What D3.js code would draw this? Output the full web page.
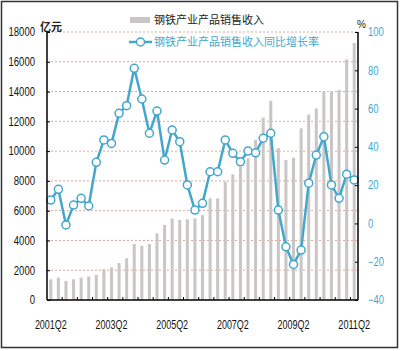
<!doctype html>
<html lang="zh">
<head>
    <meta charset="utf-8">
    <title></title>
    <script src="https://d3js.org/d3.v7.min.js"></script>
    <style type="text/css">
    body { margin:0; background:#fff; }
    .tick-text { font-family:"Liberation Sans Narrow","Arial Narrow","Liberation Sans",sans-serif; font-size:12px; }
    .cjk { font-family:"Noto Sans CJK SC",sans-serif; }
    </style>
</head>

<body>
</body>

<script type="text/javascript">

  var quarters = ["2001Q2","2001Q3","2001Q4","2002Q1","2002Q2","2002Q3","2002Q4","2003Q1",
    "2003Q2","2003Q3","2003Q4","2004Q1","2004Q2","2004Q3","2004Q4","2005Q1",
    "2005Q2","2005Q3","2005Q4","2006Q1","2006Q2","2006Q3","2006Q4","2007Q1",
    "2007Q2","2007Q3","2007Q4","2008Q1","2008Q2","2008Q3","2008Q4","2009Q1",
    "2009Q2","2009Q3","2009Q4","2010Q1","2010Q2","2010Q3","2010Q4","2011Q1","2011Q2"]

  // 钢铁产业产品销售收入 (亿元)
  var revenue = [1390,1500,1280,1390,1500,1580,1690,2080,2190,2480,2800,3760,3650,3760,4480,5040,
    5480,5380,5420,5480,5700,6830,6830,7950,8440,8960,9510,10750,12250,13380,10200,9400,
    9560,11530,12450,12870,13990,14000,14100,16160,17260]

  // 同比增长率 (%)
  var growth = [12.2,17.8,-0.8,9.6,13.1,9.1,31.9,43.6,41.8,57.5,61.5,81.0,65.0,47.1,58.7,33.1,
    48.8,42.7,20.1,7.0,10.5,27.0,27.0,43.6,36.6,32.2,37.8,36.9,44.5,47.1,7.0,-12.2,
    -21.4,-13.9,21.0,35.7,45.3,20.1,13.1,25.7,22.7]

  var leftTicks  = [0,2000,4000,6000,8000,10000,12000,14000,16000,18000]
  var rightTicks = [-40,-20,0,20,40,60,80,100]
  var xLabels    = ["2001Q2","2003Q2","2005Q2","2007Q2","2009Q2","2011Q2"]

  var blue = "#43a7cb"
  var grey = "#cbc6c6"

  var margin = {top:32, left:47, right:42, bottom:51};
  var W = 400, H = 351;
  var width  = W - margin.left - margin.right;
  var height = H - margin.top  - margin.bottom;

  // squeeze digits to look like the narrow face of the original
  function narrow(sel){
    sel.attr("textLength",function(){ return this.textContent.length*5.3 })
       .attr("lengthAdjust","spacingAndGlyphs")
  }

  var svg = d3.select("body")
    .append("svg")
    .attr("width", W)
    .attr("height", H)

  // outer frame
  svg.append("rect")
    .attr("x",1.5).attr("y",1.5)
    .attr("width",W-4).attr("height",H-5)
    .style("fill","none")
    .style("stroke","#333")
    .style("stroke-width",1.5)

  var g = svg.append("g")
    .attr("transform","translate("+margin.left+","+margin.top+")");

  var xScale = d3.scaleBand()
    .domain(quarters)
    .range([0,width])
    .paddingInner(0.6)
    .paddingOuter(0.3)

  var yLeft = d3.scaleLinear()
    .domain([0,18000])
    .range([height,0])

  var yRight = d3.scaleLinear()
    .domain([-40,100])
    .range([height,0])

  // gridlines
  g.selectAll(".grid")
    .data(leftTicks.filter(d=>d>0))
    .enter()
    .append("line")
    .attr("x1",0).attr("x2",width)
    .attr("y1",d=>yLeft(d)).attr("y2",d=>yLeft(d))
    .style("stroke","#d9a9a0")
    .style("stroke-width",1)
    .style("stroke-dasharray","2,2")

  // bars
  g.selectAll(".bar")
    .data(revenue)
    .enter()
    .append("rect")
    .attr("x",(d,i)=>xScale(quarters[i]))
    .attr("width",xScale.bandwidth())
    .attr("y",d=>yLeft(d))
    .attr("height",d=>height-yLeft(d))
    .style("fill",grey)

  // growth line
  var cx = (d,i)=>xScale(quarters[i])+xScale.bandwidth()/2;
  var line = d3.line()
    .x(cx)
    .y(d=>yRight(d))

  g.append("path")
    .attr("d",line(growth))
    .style("fill","none")
    .style("stroke",blue)
    .style("stroke-width",2.5)

  g.selectAll(".dot")
    .data(growth)
    .enter()
    .append("circle")
    .attr("cx",cx)
    .attr("cy",d=>yRight(d))
    .attr("r",4)
    .style("fill","#fff")
    .style("stroke",blue)
    .style("stroke-width",1.5)

  // left axis
  var leftAxis = d3.axisLeft(yLeft).tickValues(leftTicks).tickSize(-3).tickPadding(12).tickFormat(d3.format("d"))
  var la = g.append("g").call(leftAxis)
  la.select(".domain").remove()
  la.selectAll("line").style("stroke","#000")
  la.selectAll("text").attr("class","tick-text").style("fill","#111").call(narrow)

  // right axis
  var rightAxis = d3.axisRight(yRight).tickValues(rightTicks).tickSize(-3).tickPadding(10)
  var ra = g.append("g").attr("transform","translate("+width+",0)").call(rightAxis)
  ra.select(".domain").remove()
  ra.selectAll("line").style("stroke","#000")
  ra.selectAll("text").attr("class","tick-text").style("fill",blue).call(narrow)

  // axis lines
  g.append("line").attr("x1",0).attr("x2",0).attr("y1",0).attr("y2",height)
    .style("stroke","#000").style("stroke-width",1.5)
  g.append("line").attr("x1",width).attr("x2",width).attr("y1",0).attr("y2",height)
    .style("stroke","#000").style("stroke-width",1.5)
  g.append("line").attr("x1",0).attr("x2",width).attr("y1",height).attr("y2",height)
    .style("stroke","#000").style("stroke-width",1.5)

  // x ticks every two quarters at band edges
  var step = xScale.step()
  var edges = quarters.map((q,i)=>i).filter(i=>i>0 && i%2==0)
  g.selectAll(".xtick")
    .data(edges)
    .enter()
    .append("line")
    .attr("x1",i=>xScale(quarters[i])-step*xScale.paddingInner()/2)
    .attr("x2",i=>xScale(quarters[i])-step*xScale.paddingInner()/2)
    .attr("y1",height).attr("y2",height-3)
    .style("stroke","#000")

  g.selectAll(".xlabel")
    .data(xLabels)
    .enter()
    .append("text")
    .attr("class","tick-text")
    .attr("x",d=>xScale(d)+xScale.bandwidth()/2)
    .attr("y",height+29)
    .attr("text-anchor","middle")
    .style("fill","#111")
    .text(d=>d)
    .call(narrow)

  // units
  svg.append("text").attr("class","cjk")
    .attr("x",40).attr("y",31)
    .style("font-size","11px").style("font-weight","bold").style("fill","#222")
    .text("亿元")
  svg.append("text").attr("class","tick-text")
    .attr("x",357).attr("y",28)
    .style("font-size","10px").style("fill","#222")
    .text("%")

  // legend
  svg.append("rect").attr("x",130).attr("y",17).attr("width",20).attr("height",6).style("fill",grey)
  svg.append("text").attr("class","cjk")
    .attr("x",154).attr("y",24)
    .style("font-size","11px").style("fill","#222")
    .text("钢铁产业产品销售收入")
  svg.append("line").attr("x1",129).attr("x2",152).attr("y1",42).attr("y2",42)
    .style("stroke",blue).style("stroke-width",2.5)
  svg.append("circle").attr("cx",140.5).attr("cy",42).attr("r",4)
    .style("fill","#fff").style("stroke",blue).style("stroke-width",1.5)
  svg.append("text").attr("class","cjk")
    .attr("x",154).attr("y",46)
    .style("font-size","11px").style("fill",blue)
    .text("钢铁产业产品销售收入同比增长率")

</script>
</html>
